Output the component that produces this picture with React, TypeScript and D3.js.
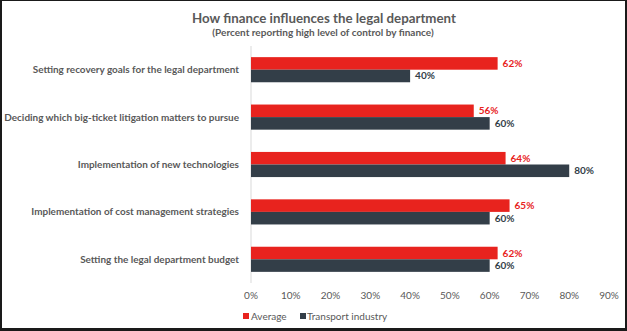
import React from "react";
import * as d3 from "d3";

const categories = [
  "Setting recovery goals for the legal department",
  "Deciding which big-ticket litigation matters to pursue",
  "Implementation of new technologies",
  "Implementation of cost management strategies",
  "Setting the legal department budget",
];
const averageValues = [62, 56, 64, 65, 62];
const transportValues = [40, 60, 80, 60, 60];
const seriesNames = ["Average", "Transport industry"];
const tickValues = [0, 10, 20, 30, 40, 50, 60, 70, 80, 90];

const W = 627;
const H = 331;
const RED = "#e8231e";
const DARK = "#333e48";
const GRAY = "#595959";
const FONT = "Lato, 'Open Sans', sans-serif";

export default function App() {
  const x = d3.scaleLinear().domain([0, 90]).range([251, 609]);
  const y = d3.scaleBand<string>().domain(categories).range([46, 283]).paddingInner(0.47).paddingOuter(0.235);
  const bw = y.bandwidth() / 2;

  return (
    <svg width={W} height={H} style={{ position: "absolute", left: 0, top: 0, display: "block" }} fontFamily={FONT}>
      <rect x={0} y={0} width={W} height={H} fill="#1a1a1a" />
      <rect x={2} y={1} width={W - 4} height={H - 4} fill="#ffffff" />
      <text x={324} y={22.5} textAnchor="middle" fontSize={13.3} fontWeight="bold" fill={GRAY}>
        How finance influences the legal department
      </text>
      <text x={323} y={36} textAnchor="middle" fontSize={10} fontWeight="bold" fill={GRAY}>
        (Percent reporting high level of control by finance)
      </text>
      <line x1={x(0)} x2={x(0)} y1={46} y2={283} stroke="#d9d9d9" strokeWidth={1} />
      {categories.map((c, i) => {
        const y0 = y(c)!;
        return (
          <g key={c}>
            <text x={239} y={y0 + bw} dy="0.35em" textAnchor="end" fontSize={9.95} fontWeight="bold" fill={GRAY}>
              {c}
            </text>
            <rect x={x(0)} y={y0} width={x(averageValues[i]) - x(0)} height={bw} fill={RED} />
            <rect x={x(0)} y={y0 + bw} width={x(transportValues[i]) - x(0)} height={bw} fill={DARK} />
            <text x={x(averageValues[i]) + 5} y={y0 + bw / 2} dy="0.35em" fontSize={10} fontWeight="bold" fill={RED}>
              {averageValues[i]}%
            </text>
            <text x={x(transportValues[i]) + 5} y={y0 + bw * 1.5} dy="0.35em" fontSize={10} fontWeight="bold" fill={DARK}>
              {transportValues[i]}%
            </text>
          </g>
        );
      })}
      {tickValues.map((t) => (
        <text key={t} x={x(t)} y={295} dy="0.35em" textAnchor="middle" fontSize={10} fill={GRAY}>
          {t}%
        </text>
      ))}
      <rect x={243} y={313} width={6} height={6} fill={RED} />
      <text x={251} y={316} dy="0.35em" fontSize={10} fill={GRAY}>{seriesNames[0]}</text>
      <rect x={300} y={313} width={6} height={6} fill={DARK} />
      <text x={307} y={316} dy="0.35em" fontSize={10} fill={GRAY}>{seriesNames[1]}</text>
    </svg>
  );
}
